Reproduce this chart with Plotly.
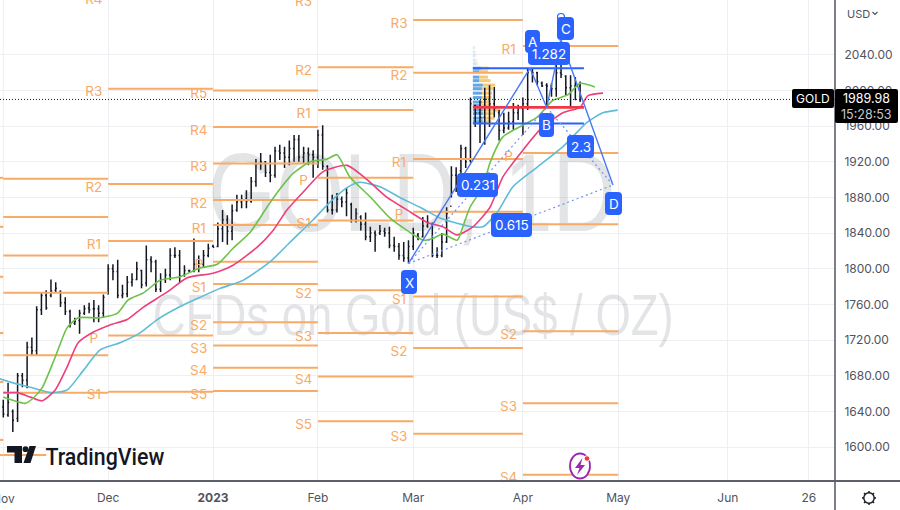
import plotly.graph_objects as go

# ---------- data ----------
bar_high = [1653,1672,1642,1683,1683,1718,1723,1758,1774,1776,1788,1785,1776,1768,1754,1745,1754,1759,1762,1765,1759,1771,
            1805,1805,1810,1782,1792,1795,1808,1799,1826,1814,1810,1795,1800,1823,1824,1821,1804,1799,1834,1815,1821,1828,
            1827,1852,1866,1860,1872,1883,1883,1888,1903,1923,1930,1921,1928,1937,1939,1937,1944,1950,1950,1937,1936,1933,
            1956,1961,1916,1883,1885,1881,1891,1874,1868,1860,1863,1847,1843,1849,1846,1847,1836,1829,1830,1832,
            1846,1840,1858,1860,1852,1824,1840,1869,1915,1914,1939,1937,1992,1984,1989,2003,2006,2004,1978,1975,1976,1986,1984,
            1992,2025,2025,2021,2010,2008,2008,2029,2029,2017,2017,2015,2010]
bar_low = [1633,1634,1617,1628,1667,1666,1703,1703,1748,1754,1768,1773,1757,1748,1734,1737,1727,1748,1750,1740,1740,1745,
           1771,1787,1767,1767,1768,1780,1787,1778,1780,1796,1774,1774,1784,1787,1812,1785,1791,1796,1796,1796,1802,1813,
           1824,1824,1830,1827,1832,1864,1868,1868,1874,1892,1911,1903,1897,1902,1922,1913,1916,1920,1920,1918,1916,1902,
           1913,1911,1863,1861,1863,1869,1859,1852,1852,1843,1832,1830,1819,1838,1836,1823,1819,1810,1808,1806,
           1821,1832,1835,1846,1813,1812,1813,1829,1880,1886,1907,1913,1919,1959,1941,1939,1959,1970,1944,1952,1956,1956,1967,
           1950,1978,2009,2006,2004,1981,1993,1993,2014,1995,1980,1989,1987]
bar_open = [1645,1636,1640,1632,1680,1675,1712,1708,1754,1770,1770,1776,1774,1762,1752,1739,1742,1750,1756,1755,1755,1750,
            1772,1800,1797,1770,1772,1785,1788,1798,1784,1810,1808,1777,1788,1793,1815,1815,1793,1798,1798,1805,1805,1815,
            1825,1825,1845,1855,1842,1866,1875,1878,1876,1898,1918,1920,1908,1905,1932,1930,1925,1935,1945,1925,1930,1928,
            1925,1950,1915,1866,1866,1878,1875,1872,1855,1858,1850,1836,1840,1840,1842,1840,1826,1825,1815,1812,
            1825,1838,1836,1848,1850,1815,1815,1830,1870,1905,1910,1935,1922,1983,1975,1970,1990,1985,1975,1955,1958,1965,1975,
            1980,1985,2020,2020,2008,2006,2005,2002,2020,2016,2003,2005,2005]
bar_close = [1637,1650,1630,1680,1675,1712,1708,1754,1770,1756,1775,1778,1762,1752,1738,1741,1750,1755,1754,1755,1750,1768,
             1800,1797,1770,1772,1785,1788,1800,1782,1810,1808,1777,1788,1793,1815,1815,1792,1798,1798,1805,1805,1815,1823,
             1824,1845,1855,1842,1865,1875,1878,1876,1898,1918,1920,1908,1905,1932,1930,1925,1935,1945,1925,1930,1928,1925,
             1950,1915,1866,1866,1878,1875,1885,1855,1862,1850,1836,1840,1838,1842,1840,1826,1825,1815,1812,1825,
             1840,1835,1848,1852,1815,1815,1830,1862,1905,1892,1935,1920,1985,1975,1970,1990,1985,1980,1955,1958,1965,1975,1980,
             1985,2020,2020,2010,2005,2005,2002,2020,2018,2003,2005,2005,1989.98]
assert len(bar_high) == len(bar_low) == len(bar_open) == len(bar_close)
bar_index = list(range(len(bar_close)))

green_i = [0,4.6,6.3,8.2,10.9,13.4,15.7,20.3,23.9,26.2,29.4,32.9,37.1,41.3,44.9,48.2,51.8,55.3,57.4,60.8,64.4,67.9,70,72.7,76.9,81.1,84.7,88.1,90.1,92.2,95.2,96.4,97.9,100.6,102.1,104.8,109,112,115.3,118.4,121,124.1]
green_p = [1656,1649,1655,1667,1701,1734,1745,1745,1750,1765,1773,1787,1791,1801,1805,1823,1841,1869,1885,1907,1920,1923,1928,1903,1881,1857,1843,1832,1834,1839,1832,1847,1869,1892,1919,1948,1961,1970,1989,1995,2008,2004]
pink_i = [0,2.9,5.7,8.2,10.9,13.4,15.7,18.9,22.4,26,29.4,34.4,38.6,44,48.2,53.2,56.6,59.5,62.9,67.1,72.1,76.3,80.5,84.7,88.9,92.2,95.2,98.5,102.1,104.8,109,112.6,117.4,121,122.6,125.8]
pink_p = [1661,1661,1656,1652,1664,1690,1717,1729,1737,1743,1757,1774,1790,1795,1804,1824,1843,1866,1886,1909,1916,1900,1880,1866,1852,1847,1838,1847,1869,1903,1933,1956,1975,1981,1994,1997]
teal_i = [-1,2.1,5.7,9.9,13.4,16.8,20.3,24.5,28.7,32.3,36.5,41.3,45.5,50.3,56,60.2,65,68.6,72.1,74.8,79,83.2,87.4,91.6,95.2,98.5,100.6,103.6,106.9,112,117.4,122.4,125.8,128.9]
teal_p = [1677,1672,1667,1661,1664,1686,1709,1717,1728,1743,1756,1768,1778,1787,1808,1830,1855,1875,1891,1897,1892,1880,1869,1857,1851,1847,1847,1863,1892,1914,1937,1964,1975,1978]

period_start = [-1, 0, 22, 44, 66, 86, 109]
period_end = [0, 22, 44, 66, 86, 109, 129]
period_levels = [
    [1902,1847,1791,1728,1673,1608,1591],
    [1901,1858,1815,1773,1703,1661],
    [2002,1895,1831,1725,1662],
    [2000,1959,1918,1877,1849,1808,1783,1740,1714,1689,1663],
    [2026,1978,1902,1854,1776,1728,1679,1629],
    [2079,2020,1923,1864,1769,1711,1615],
    [2050,1930,1850,1730,1649,1569],
]
label_period = [
    ["R4","R3","R2","R1","P","S1"],
    ["R5","R4","R3","R2","R1","P","S1","S2","S3","S4","S5"],
    ["R3","R2","R1","P","S1","S2","S3","S4","S5"],
    ["R3","R2","R1","P","S1","S2","S3"],
    ["R1","P","S1","S2","S3","S4"],
]
label_levels = [
    [2106,2002,1895,1831,1725,1662],
    [2000,1959,1918,1877,1849,1808,1783,1740,1714,1689,1663],
    [2103,2026,1978,1902,1854,1776,1728,1679,1629],
    [2079,2020,1923,1864,1769,1711,1615],
    [2050,1930,1850,1730,1649,1569],
]
label_x = [19, 41, 63, 83, 106]
extra_i = [0, 9]
extra_p = [1591, 1591]

vp_price = [2048,2043,2039,2034,2030,2025,2021,2015,2011,2006,2002,1997,1992,1987,1983,1978,1974,1969,1965]
vp_blue = [0.3,0.4,0.5,0.6,0.7,1.7,1.4,1.4,1.4,2.1,1.9,1.9,1.9,1.9,1.75,2.1,2.1,2.1,2.1]
vp_orange = [0.3,0.3,0.2,0.4,0.5,1.6,1.75,1.75,2.3,2.6,2.3,2.1,2.0,1.8,2.1,3.7,2.45,2.45,1.75]
vp_alpha = [0.25,0.25,0.25,0.25,0.3,1,1,1,1,1,1,1,1,1,1,1,1,1,1]
vp_start = 98.5
vp_end = 121.8
vp_upper, vp_lower, vp_poc = 2025, 1963, 1981

xabcd_i = [85, 110.5, 114, 117, 127.9]
xabcd_p = [1806, 2025, 1981, 2057, 1894]
dot_xb_i, dot_xb_p = [85, 114], [1806, 1981]
dot_xd_i, dot_xd_p = [85, 127.9], [1806, 1894]
dot_ac_i, dot_ac_p = [110.5, 117], [2025, 2057]
dot_bd_i, dot_bd_p = [114, 127.9], [1981, 1894]

last_price = 1989.98
tick_idx = [22, 44, 66, 86, 109, 129, 152, 169]
tick_txt = ["Dec", "<b>2023</b>", "Feb", "Mar", "Apr", "May", "Jun", "26"]
grid_idx = [0]
price_ticks = [1600,1640,1680,1720,1760,1800,1840,1880,1920,1960,2000,2040]

# ---------- style ----------
W, H = 900, 510
PW, PH = 835, 481
ORANGE = "#f8ab66"
BLUE = "#2962ff"
FONT = "Inter, 'Noto Sans', sans-serif"
WM_FONT = "'Liberation Sans', sans-serif"
X0, X1 = -0.69, 174.47
Y0, Y1 = 1561.9, 2101.5

def px(x): return x / PW
def py(y): return 1 - y / PH

fig = go.Figure()

# watermark
fig.add_trace(go.Scatter(x=[85.7], y=[1874], mode="text", text=["GOLD, 1D"], cliponaxis=False, hoverinfo="skip", showlegend=False,
                         textfont=dict(size=112, color="rgba(60,65,80,0.14)", family=WM_FONT)))
fig.add_trace(go.Scatter(x=[86], y=[1742], mode="text", text=["CFDs on Gold (US$ / OZ)"], cliponaxis=False, hoverinfo="skip", showlegend=False,
                         textfont=dict(size=58, color="rgba(60,65,80,0.14)", family=WM_FONT)))

# volume profile
fig.add_trace(go.Bar(y=vp_price, x=vp_blue, base=[vp_start]*len(vp_price), orientation="h", width=3.4, showlegend=False, hoverinfo="skip",
                     marker=dict(color=[f"rgba(70,150,225,{0.85*a})" for a in vp_alpha], line_width=0)))
fig.add_trace(go.Bar(y=vp_price, x=vp_orange, base=[vp_start+b for b in vp_blue], orientation="h", width=3.4, showlegend=False, hoverinfo="skip",
                     marker=dict(color=[f"rgba(245,195,100,{0.9*a})" for a in vp_alpha], line_width=0)))

# pivots
px_x, px_y = [], []
for s, e, lv in zip(period_start, period_end, period_levels):
    for v in lv:
        px_x += [s, e, None]
        px_y += [v, v, None]
px_x += extra_i; px_y += extra_p
fig.add_trace(go.Scatter(x=px_x, y=px_y, mode="lines", line=dict(color=ORANGE, width=2), showlegend=False, hoverinfo="skip"))

for lx, names, lv in zip(label_x, label_period, label_levels):
    fig.add_trace(go.Scatter(x=[lx]*len(lv), y=[v-4.8 for v in lv], mode="text", text=names, cliponaxis=False, showlegend=False, hoverinfo="skip",
                             textfont=dict(size=13.5, color=ORANGE, family=FONT)))

# bars
fig.add_trace(go.Ohlc(x=bar_index, open=bar_open, high=bar_high, low=bar_low, close=bar_close, tickwidth=0.25, showlegend=False,
                      increasing_line=dict(color="#131722", width=1.5), decreasing_line=dict(color="#131722", width=1.5)))

# moving averages
for xs, ys, c in [(teal_i, teal_p, "#5ebcd8"), (pink_i, pink_p, "#ec407a"), (green_i, green_p, "#6cc24a")]:
    fig.add_trace(go.Scatter(x=xs, y=ys, mode="lines", line=dict(color=c, width=1.6, shape="spline", smoothing=0.6), showlegend=False, hoverinfo="skip"))

# profile levels
for lvl, col, wd in [(vp_upper, BLUE, 2), (vp_lower, BLUE, 2), (vp_poc, "#f23645", 2.6)]:
    fig.add_trace(go.Scatter(x=[vp_start, vp_end], y=[lvl, lvl], mode="lines", line=dict(color=col, width=wd), showlegend=False, hoverinfo="skip"))

# last price
fig.add_trace(go.Scatter(x=[X0, X1], y=[last_price, last_price], mode="lines", line=dict(color="#131722", width=1, dash="1px,2px"), showlegend=False, hoverinfo="skip"))

# harmonic pattern
fig.add_trace(go.Scatter(x=xabcd_i, y=xabcd_p, mode="lines", line=dict(color="#4a78f5", width=1.4), showlegend=False, hoverinfo="skip"))
for xs, ys in [(dot_xb_i, dot_xb_p), (dot_xd_i, dot_xd_p), (dot_ac_i, dot_ac_p), (dot_bd_i, dot_bd_p)]:
    fig.add_trace(go.Scatter(x=xs, y=ys, mode="lines", line=dict(color="#6f93f0", width=1.2, dash="2px,3px"), showlegend=False, hoverinfo="skip"))

shapes, annos = [], []

def rrect(x0, y0, x1, y1, r=4, fill=BLUE, line=None):
    X = lambda v: f"{px(v):.5f}"
    Y = lambda v: f"{py(v):.5f}"
    p = (f"M{X(x0+r)},{Y(y0)} L{X(x1-r)},{Y(y0)} Q{X(x1)},{Y(y0)} {X(x1)},{Y(y0+r)} "
         f"L{X(x1)},{Y(y1-r)} Q{X(x1)},{Y(y1)} {X(x1-r)},{Y(y1)} "
         f"L{X(x0+r)},{Y(y1)} Q{X(x0)},{Y(y1)} {X(x0)},{Y(y1-r)} "
         f"L{X(x0)},{Y(y0+r)} Q{X(x0)},{Y(y0)} {X(x0+r)},{Y(y0)} Z")
    shapes.append(dict(type="path", xref="paper", yref="paper", path=p, fillcolor=fill, line=dict(width=0), layer="above"))

def text(x, y, s, size=13, color="#ffffff", xanchor="center", family=FONT, weight=None):
    f = dict(size=size, color=color, family=family)
    if weight: f["weight"] = weight
    annos.append(dict(xref="paper", yref="paper", x=px(x), y=py(y), text=s, showarrow=False, xanchor=xanchor, yanchor="middle", font=f))

def poly(points, fill="#131722", width=0, line="#131722", close=True):
    d = "M" + " L".join(f"{px(a):.5f},{py(b):.5f}" for a, b in points) + (" Z" if close else "")
    shapes.append(dict(type="path", xref="paper", yref="paper", path=d, fillcolor=fill if close else None, line=dict(width=width, color=line), layer="above"))

def circle(cx, cy, rx, ry, fill="#ffffff", line="#9c27b0", width=2):
    shapes.append(dict(type="circle", xref="paper", yref="paper", x0=px(cx-rx), x1=px(cx+rx), y0=py(cy+ry), y1=py(cy-ry),
                       fillcolor=fill, line=dict(color=line, width=width), layer="above"))

# pattern boxes
circle(561, 17, 3.5, 3.5, fill="rgba(0,0,0,0)", line=BLUE, width=1.2)
for (x0, y0, x1, y1, s) in [(528,42,570,65,"1.282"), (525,30,540,53,"A"), (557,17,574,40,"C"), (539,113,554,137,"B"),
                            (401,270,417,294,"X"), (605,192,622,215,"D"), (567,135,594,158,"2.3"),
                            (457,173,498,197,"0.231"), (491,213,532,237,"0.615")]:
    rrect(x0, y0, x1, y1)
    text((x0+x1)/2, (y0+y1)/2 + 0.5, s, size=13.5)

# axis frame
shapes.append(dict(type="line", xref="paper", yref="paper", x0=0, x1=W/PW, y0=py(481), y1=py(481), line=dict(color="#5d606b", width=2), layer="above"))
shapes.append(dict(type="line", xref="paper", yref="paper", x0=1, x1=1, y0=py(0), y1=py(510), line=dict(color="#5d606b", width=1.6), layer="above"))
shapes.append(dict(type="line", xref="x", yref="paper", x0=grid_idx[0], x1=grid_idx[0], y0=0, y1=1, line=dict(color="#efeff3", width=1), layer="below"))

# Nov tick, cut by the page edge as in the reference
text(3, 498, "Nov", size=12, color="#50535e")

# TradingView logo
poly([(7,446),(22,446),(22,463),(14.5,463),(14.5,452.5),(7,452.5)])
circle(25.5, 449.2, 2.9, 2.9, fill="#131722", line="#131722", width=0)
poly([(29.5,446),(36,446),(30.5,463),(23.5,463)])
text(104.5, 456.5, "TradingView", size=24, color="#131722", family="Roboto, Inter, sans-serif", weight=500)

# lightning icon
circle(580, 466, 10, 12.5, fill="#ffffff", line="#9c27b0", width=1.8)
poly([(582.5,458),(575,468),(579.5,468),(577,475),(585,465),(580.5,465)], fill="#9c27b0", line="#9c27b0")
circle(587, 458.5, 2.8, 2.8, fill="#f23645", line="#ffffff", width=1)

# price tags
rrect(792, 89, 834, 108, r=2, fill="#000000")
text(813, 98.5, "GOLD", size=12)
rrect(835, 89, 898, 123, r=2, fill="#000000")
text(866.5, 98.5, "1989.98", size=12.5)
text(866.5, 114, "15:28:53", size=12.5, color="#c8c8c8")

# USD label
text(845, 13.5, "USD", size=11, color="#50535e", xanchor="left")
poly([(872.5,12),(875,14.5),(877.5,12)], width=1.2, line="#50535e", close=False)

# gear
circle(869, 498, 5.2, 5.2, fill="#ffffff", line="#131722", width=1.4)
for dx, dy in [(0,-7),(0,7),(7,0),(-7,0),(5,-5),(-5,-5),(5,5),(-5,5)]:
    poly([(869+dx*0.75, 498+dy*0.75), (869+dx, 498+dy)], width=1.4, close=False)

fig.update_layout(
    width=W, height=H, margin=dict(l=0, r=W-PW, t=0, b=H-PH),
    paper_bgcolor="#ffffff", plot_bgcolor="#ffffff", showlegend=False, barmode="overlay",
    shapes=shapes, annotations=annos, font=dict(family=FONT),
    xaxis=dict(range=[X0, X1], tickmode="array", tickvals=tick_idx, ticktext=tick_txt, showgrid=True, gridcolor="#efeff3", gridwidth=1,
               zeroline=False, rangeslider=dict(visible=False), ticks="outside", ticklen=6, tickcolor="rgba(0,0,0,0)",
               tickfont=dict(size=12, color="#50535e", family=FONT), showline=False, fixedrange=True),
    yaxis=dict(range=[Y0, Y1], side="right", tickmode="array", tickvals=price_ticks, ticktext=[f"{v:.2f}" for v in price_ticks],
               showgrid=True, gridcolor="#efeff3", gridwidth=1, zeroline=False, ticks="outside", ticklen=6, tickcolor="rgba(0,0,0,0)",
               tickfont=dict(size=12, color="#50535e", family=FONT), showline=False, fixedrange=True),
)

squeeze_js = """
document.body.style.margin='0';document.body.style.overflow='hidden';
var targets={'GOLD, 1D':0.78,'CFDs on Gold (US$ / OZ)':0.785,'TradingView':0.89};
document.querySelectorAll('svg text').forEach(function(t){
  var s=targets[t.textContent];
  if(!s) return;
  var b=t.getBBox(), c=b.x+b.width/2;
  var old=t.getAttribute('transform')||'';
  t.setAttribute('transform','translate('+c+',0) scale('+s+',1) translate('+(-c)+',0) '+old);
});
"""
fig.write_html("out.html", config=dict(displayModeBar=False), post_script=squeeze_js)
